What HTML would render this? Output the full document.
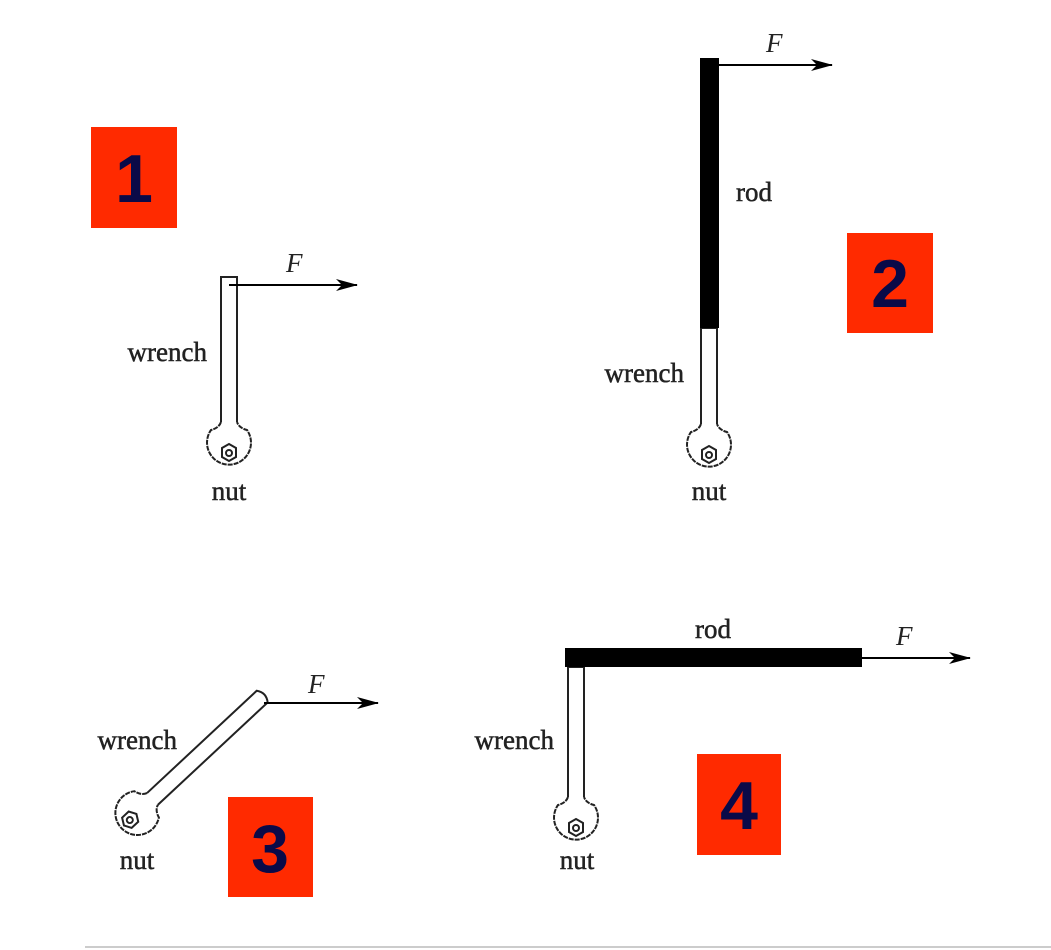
<!DOCTYPE html>
<html><head><style>
html,body{margin:0;padding:0;background:#fff;}
svg{display:block;}
.lbl{font-family:"Liberation Serif",serif;font-size:27px;fill:#222;stroke:#222;stroke-width:0.5;}
.F{font-family:"Liberation Serif",serif;font-size:27px;font-style:italic;fill:#222;}
.num{font-family:"Liberation Sans",sans-serif;font-weight:bold;font-size:68px;fill:#0a0a48;}
</style></head><body>
<svg width="1051" height="950" viewBox="0 0 1051 950" xmlns="http://www.w3.org/2000/svg">
<defs>
<marker id="ah" markerWidth="22" markerHeight="12" refX="21" refY="6" orient="auto" markerUnits="userSpaceOnUse">
<path d="M0,0 L22,6 L0,12 L6,6 Z" fill="#000"/>
</marker>
</defs>
<rect x="91" y="127" width="86" height="101" fill="#ff2a00"/>
<text class="num" x="134" y="202" text-anchor="middle">1</text>
<rect x="847" y="233" width="86" height="100" fill="#ff2a00"/>
<text class="num" x="890" y="307" text-anchor="middle">2</text>
<rect x="228" y="797" width="85" height="100" fill="#ff2a00"/>
<text class="num" x="270" y="872" text-anchor="middle">3</text>
<rect x="697" y="754" width="84" height="101" fill="#ff2a00"/>
<text class="num" x="739" y="829" text-anchor="middle">4</text>

<g fill="#fff" stroke="#222" stroke-width="2">
<g transform="translate(229,450)">
<path d="M -8 -28 L -8 -173 L 8 -173 L 8 -28"/>
<path d="M -8 -28 Q -10 -22 -18 -20 A 22 22 0 1 0 18 -20 Q 10 -22 8 -28" stroke-dasharray="5 1"/>
<polygon points="0,-6 7,-2 7,7 0,11 -7,7 -7,-2" fill="#fff"/><circle cx="0" cy="3" r="3"/>
</g>
<g transform="translate(709,452)">
<path d="M -8 -28 L -8 -124 L 8 -124 L 8 -28"/>
<path d="M -8 -28 Q -10 -22 -18 -20 A 22 22 0 1 0 18 -20 Q 10 -22 8 -28" stroke-dasharray="5 1"/>
<polygon points="0,-6 7,-2 7,7 0,11 -7,7 -7,-2"/><circle cx="0" cy="3" r="3"/>
</g>
<g transform="translate(132,818) rotate(47)">
<path d="M -8 -28 L -8 -178 Q 0 -184 8 -178 L 8 -28"/>
<path d="M -8 -28 Q -10 -22 -18 -20 A 22 22 0 1 0 18 -20 Q 10 -22 8 -28" stroke-dasharray="5 1"/>
<polygon points="0,-6 7,-2 7,7 0,11 -7,7 -7,-2"/><circle cx="0" cy="3" r="3"/>
</g>
<g transform="translate(576,825)">
<path d="M -8 -28 L -8 -158 L 8 -158 L 8 -28"/>
<path d="M -8 -28 Q -10 -22 -18 -20 A 22 22 0 1 0 18 -20 Q 10 -22 8 -28" stroke-dasharray="5 1"/>
<polygon points="0,-6 7,-2 7,7 0,11 -7,7 -7,-2"/><circle cx="0" cy="3" r="3"/>
</g>
</g>
<rect x="700" y="58" width="19" height="270" fill="#000"/>
<rect x="565" y="648" width="297" height="19" fill="#000"/>
<g stroke="#000" stroke-width="2" fill="none" marker-end="url(#ah)">
<line x1="229" y1="285" x2="357" y2="285"/>
<line x1="719" y1="65" x2="832" y2="65"/>
<line x1="264" y1="703" x2="378" y2="703"/>
<line x1="862" y1="658" x2="970" y2="658"/>
</g>
<text class="F" x="286" y="272">F</text>
<text class="F" x="766" y="52">F</text>
<text class="F" x="308" y="693">F</text>
<text class="F" x="896" y="645">F</text>
<text class="lbl" x="207" y="361" text-anchor="end">wrench</text>
<text class="lbl" x="684" y="382" text-anchor="end">wrench</text>
<text class="lbl" x="177" y="749" text-anchor="end">wrench</text>
<text class="lbl" x="554" y="749" text-anchor="end">wrench</text>
<text class="lbl" x="754" y="201" text-anchor="middle">rod</text>
<text class="lbl" x="713" y="638" text-anchor="middle">rod</text>
<text class="lbl" x="229" y="500" text-anchor="middle">nut</text>
<text class="lbl" x="709" y="500" text-anchor="middle">nut</text>
<text class="lbl" x="137" y="869" text-anchor="middle">nut</text>
<text class="lbl" x="577" y="869" text-anchor="middle">nut</text>
<line x1="85" y1="947" x2="1051" y2="947" stroke="#ccc" stroke-width="2"/>
</svg>
</body></html>
